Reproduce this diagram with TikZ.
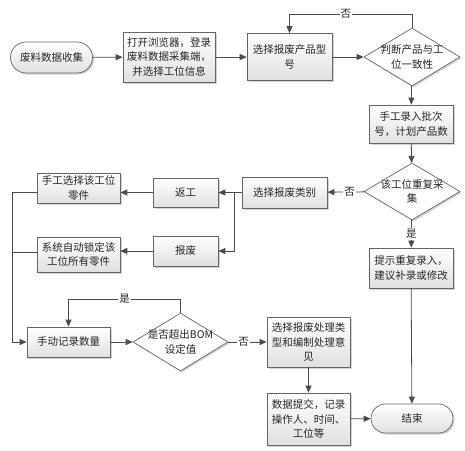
\documentclass[tikz,border=0pt]{standalone}
\usepackage{fontspec}
\newfontfamily\cjk{Noto Sans CJK SC}
\usetikzlibrary{shapes.geometric,shapes.misc,shadows,arrows.meta}
\begin{document}
\begin{tikzpicture}[x=1pt,y=-1pt,
  every node/.style={font=\cjk\fontsize{10.5}{14.5}\selectfont, text=black!85},
  boxshade/.style={draw=black!60, line width=0.7pt, top color=white, bottom color=black!12,
    drop shadow={shadow xshift=1.5pt, shadow yshift=-1.5pt, opacity=0.35}},
  pbox/.style={boxshade, rectangle, inner sep=1pt, align=center},
  term/.style={boxshade, rounded rectangle, inner sep=1pt, align=center},
  dia/.style={draw=black!60, line width=0.7pt, fill=white, diamond, inner sep=0pt,
    drop shadow={shadow xshift=1.5pt, shadow yshift=-1.5pt, opacity=0.35}},
  dtext/.style={align=center, inner sep=0pt},
  line/.style={draw=black!70, line width=0.8pt},
  arr/.style={line, -{Triangle[length=7pt,width=6pt]}},
  lab/.style={fill=white, inner sep=1pt}]
\useasboundingbox (0,0) rectangle (465,450);
% nodes
\node[term, minimum width=84, minimum height=31] (start) at (51.5,57.5) {废料数据收集};
\node[pbox, minimum width=92, minimum height=50, text width=90] (b1) at (169,57) {打开浏览器，登录\\废料数据采集端，\\并选择工位信息};
\node[pbox, minimum width=85, minimum height=47, text width=83] (b2) at (289.5,57) {选择报废产品型\\号};
\node[dia, minimum width=96, minimum height=58, label={[dtext]center:判断产品与工\\位一致性}] (d1) at (412,57) {};
\node[pbox, minimum width=84, minimum height=38, text width=82] (b3) at (411,124) {手工录入批次\\号，计划产品数};
\node[dia, minimum width=96, minimum height=57, label={[dtext]center:该工位重复采\\集}] (d2) at (412,191.5) {};
\node[pbox, minimum width=85, minimum height=31, text width=83] (b4) at (284.5,192.5) {选择报废类别};
\node[pbox, minimum width=84, minimum height=40, text width=82] (b5) at (411,268) {提示重复录入，\\建议补录或修改};
\node[pbox, minimum width=65, minimum height=29, text width=63] (fg) at (185.5,192.5) {返工};
\node[pbox, minimum width=65, minimum height=30, text width=63] (bf) at (185.5,251) {报废};
\node[pbox, minimum width=83, minimum height=30, text width=81] (b6) at (78.5,188) {手工选择该工位\\零件};
\node[pbox, minimum width=83, minimum height=35, text width=81] (b7) at (78.5,254.5) {系统自动锁定该\\工位所有零件};
\node[pbox, minimum width=83, minimum height=30, text width=81] (b8) at (68.5,342) {手动记录数量};
\node[dia, minimum width=95, minimum height=58, label={[dtext]center:是否超出BOM\\设定值}] (d3) at (180.5,342) {};
\node[pbox, minimum width=83, minimum height=50, text width=81] (b9) at (308.5,342) {选择报废处理类\\型和编制处理意\\见};
\node[pbox, minimum width=83, minimum height=52, text width=81] (b10) at (308.5,419) {数据提交，记录\\操作人、时间、\\工位等};
\node[term, minimum width=84, minimum height=29] (end) at (412,418.5) {结束};
% coordinates
\coordinate (t1) at (412,14);
\coordinate (j1) at (234,192.5);
\coordinate (l1) at (12,192);
\coordinate (l2) at (12,342);
\coordinate (t3) at (180.5,299);
% connectors
\draw[arr] (start) -- (b1);
\draw[arr] (b1) -- (b2);
\draw[arr] (b2) -- (d1);
\draw[arr] (d1.north) -- (t1) -| node[lab, pos=0.27] {否} (b2.north);
\draw[arr] (d1) -- (b3);
\draw[arr] (b3) -- (d2);
\draw[arr] (d2) -- node[lab, pos=0.4] {否} (b4);
\draw[arr] (d2) -- node[lab, pos=0.5] {是} (b5);
\draw[line] (b4) -- (j1);
\draw[arr] (j1) -- (fg);
\draw[arr] (j1) |- (bf);
\draw[arr] (fg.west) -- (fg.west -| b6.east);
\draw[arr] (bf.west) -- (bf.west -| b7.east);
\draw[line] (b6.west |- l1) -- (l1);
\draw[line] (b7.west |- 0,252) -- (12,252);
\draw[arr] (l1) -- (l2) -- (b8.west);
\draw[arr] (b8) -- (d3);
\draw[arr] (d3.north) -- (t3) -| node[lab, pos=0.25] {是} (b8.north);
\draw[arr] (d3) -- node[lab, pos=0.4] {否} (b9);
\draw[arr] (b9) -- (b10);
\draw[arr] (b10) -- (end);
\draw[arr] (b5) -- (end);
\end{tikzpicture}
\end{document}
